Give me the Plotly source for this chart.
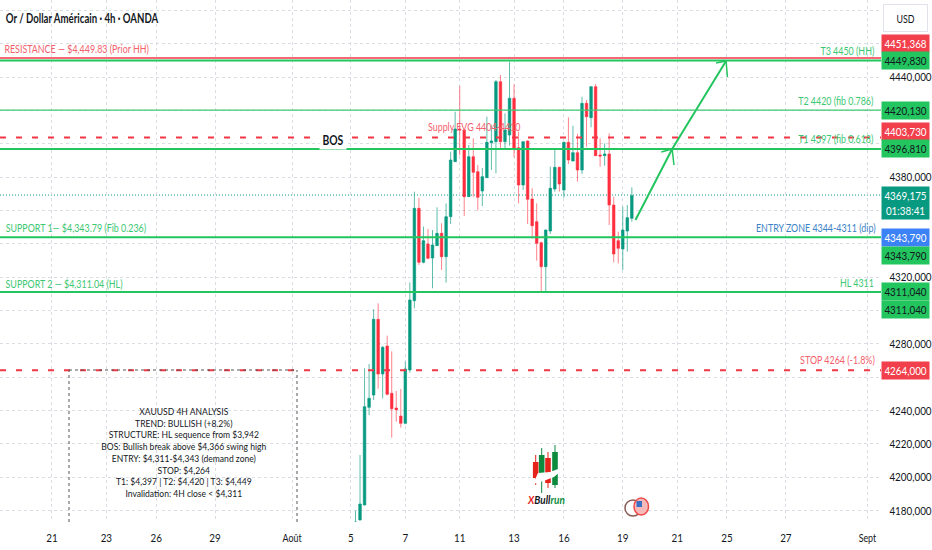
"""XAUUSD 4h chart with trade levels, drawn with Plotly."""

import plotly.graph_objects as go

# candles, one 4h bar per index
bar_index = list(range(62))
opens = [4150, 4174.2, 4183.2, 4241.8, 4249.2, 4294.6, 4261.8, 4278.6, 4250.2, 4241.4,
         4236.6, 4232.2, 4264.2, 4305.8, 4361.2, 4328.8, 4339.8, 4331.4, 4338.8, 4346.2,
         4332.2, 4356.2, 4389.2, 4408.8, 4408.2, 4368.2, 4392.2, 4383.2, 4371.6, 4379.6,
         4400.6, 4401.2, 4437.2, 4401.2, 4405.2, 4427.2, 4397.6, 4375.2, 4401.6, 4366.8,
         4353.2, 4340.6, 4326.2, 4347.6, 4372.8, 4385.8, 4372.2, 4400.8, 4389.6, 4394.6,
         4384.2, 4424.2, 4415.6, 4434.2, 4393.2, 4392.8, 4393.8, 4363.2, 4341.8, 4336.8,
         4347.6, 4355.2]
highs = [4179.8, 4213.2, 4265.2, 4267.8, 4300.6, 4304.2, 4278.6, 4284.8, 4275.4, 4251.6,
         4252.8, 4269.2, 4316.8, 4371.2, 4367.6, 4350.2, 4348.8, 4348.2, 4361.8, 4352.2,
         4364.2, 4395.2, 4419.2, 4434.6, 4408.8, 4399.2, 4403.2, 4387.2, 4385.4, 4416.2,
         4411.2, 4438.2, 4441.2, 4418.2, 4449.2, 4435.6, 4407.2, 4401.4, 4402, 4373.2,
         4364.2, 4341.2, 4348.4, 4386.2, 4396.2, 4386.2, 4401.2, 4415.8, 4410.8, 4405.8,
         4428.2, 4426.2, 4434.4, 4435.8, 4403.2, 4400.2, 4406.2, 4368.2, 4347.2, 4362.2,
         4363.2, 4373.8]
lows = [4140, 4174, 4183, 4237.2, 4246.2, 4253, 4247.2, 4249, 4223.6, 4233.2,
        4229.6, 4231.6, 4262.6, 4301.2, 4327.2, 4328.2, 4330.6, 4313.2, 4338.6, 4324.2,
        4316.6, 4351.8, 4389, 4393.2, 4356.6, 4368, 4368.2, 4360, 4362.6, 4379.4,
        4384.2, 4382.2, 4396.8, 4396.8, 4398.8, 4391.8, 4364.2, 4372.2, 4351.8, 4343.2,
        4329.8, 4311.2, 4311.2, 4345.8, 4371.2, 4371.2, 4367.6, 4387.8, 4389.4, 4377.2,
        4381.8, 4398.2, 4409.8, 4392.6, 4386.2, 4386.8, 4351.2, 4328.8, 4328.2, 4324.2,
        4335.2, 4353.2]
closes = [4173, 4183.8, 4242.2, 4247.2, 4294.6, 4261.8, 4277.8, 4249.6, 4241, 4240.4,
          4232.2, 4264.8, 4306.2, 4361.2, 4328.8, 4341.8, 4331.2, 4339.2, 4346.2, 4332.2,
          4356.2, 4390.2, 4408.8, 4408.2, 4368.2, 4392.2, 4382.8, 4367.8, 4380.2, 4400.8,
          4401.6, 4437.2, 4401.2, 4408.2, 4427.2, 4396.8, 4375.2, 4401.2, 4366.6, 4350.8,
          4340.2, 4326.2, 4348.2, 4373.2, 4385.8, 4375.8, 4400.8, 4390.2, 4394.6, 4384.2,
          4424.2, 4416.2, 4434.2, 4392.8, 4392.6, 4393.8, 4363.2, 4333.8, 4337.2, 4348.2,
          4355.6, 4368.8]

# axes
date_ticks = [-67, -55, -44, -31, -14, -1, 11, 23, 35, 46, 59, 71, 82, 95, 113]
date_labels = ["21", "23", "26", "29", "Août", "5", "7", "11", "13", "16", "19", "21", "25", "27", "Sept"]
price_ticks = list(range(4180, 4500, 20))
# ticks sitting under a price badge have no visible label
covered_ticks = [4260, 4300, 4340, 4360, 4400, 4420, 4460, 4480]
price_labels = ["" if p in covered_ticks else f"{p},000" for p in price_ticks]

# drawn levels: price, colour, width, dash
level_prices = [4451.368, 4449.83, 4420.13, 4403.73, 4396.81, 4343.79, 4311.04, 4264.0]
level_colors = ["#F23645", "#22C55E", "#3CC873", "#F23645", "#22C55E", "#22C55E", "#22C55E", "#F23645"]
level_widths = [1.5, 2, 1.3, 2, 2, 2, 2, 2]
level_dashes = ["solid", "solid", "solid", "6px,10px", "solid", "solid", "solid", "6px,10px"]

last_price = 4369.175

# the two-leg target arrow and its barbs
arrow_x = [61.8, 69.9, 81.8]
arrow_y = [4354.2, 4396.8, 4449.6]
barb_x = [67.5, 69.9, 70.3, None, 79.6, 81.8, 82.1]
barb_y = [4395, 4396.8, 4387.2, None, 4448.4, 4449.6, 4440]

GREEN = "#089981"
RED = "#FF2E3F"
TEXT = "#131722"
FONT = "Lato, sans-serif"

fig = go.Figure()

fig.add_hline(y=last_price, line=dict(color=GREEN, width=1, dash="1px,2px"), layer="below")

# sits under the candles, like the original drawing
fig.add_trace(go.Scatter(
    x=[16], y=[4409.4], mode="text", text=["Supply FVG 4404-4410"],
    textposition="middle right", textfont=dict(family=FONT, size=12, color="#F4606C"),
    hoverinfo="skip",
))

fig.add_trace(go.Candlestick(
    x=bar_index, open=opens, high=highs, low=lows, close=closes,
    increasing=dict(line=dict(color="rgba(8,153,129,0.65)", width=1), fillcolor=GREEN),
    decreasing=dict(line=dict(color="rgba(255,46,63,0.6)", width=1), fillcolor=RED),
    whiskerwidth=0,
))

for price, color, width, dash in zip(level_prices, level_colors, level_widths, level_dashes):
    fig.add_hline(y=price, line=dict(color=color, width=width, dash=dash), layer="above")

fig.add_trace(go.Scatter(x=arrow_x, y=arrow_y, mode="lines", line=dict(color="#22C55E", width=2), hoverinfo="skip"))
fig.add_trace(go.Scatter(x=barb_x, y=barb_y, mode="lines", line=dict(color="#22C55E", width=1.5), hoverinfo="skip"))


def chart_label(x, y, text, color, size=12):
    # text centred on chart pixels, the squeeze at the end keeps the centre
    fig.add_annotation(
        xref="paper", yref="paper", x=x / 881, y=1 - y / 522, text=text, showarrow=False,
        xanchor="center", yanchor="middle", font=dict(family=FONT, size=size, color=color),
    )


chart_label(82.5, 18, "<b>Or / Dollar Américain · 4h · OANDA</b>", TEXT, size=13)
chart_label(76.5, 48, "RESISTANCE — $4,449.83 (Prior HH)", "#F4606C")
chart_label(75.5, 227, "SUPPORT 1— $4,343.79 (Fib 0.236)", "#3CC873")
chart_label(63.5, 283, "SUPPORT 2 — $4,311.04 (HL)", "#3CC873")
chart_label(847, 50, "T3 4450 (HH)", "#3CC873")
chart_label(835.5, 100, "T2 4420 (fib 0.786)", "#3CC873")
chart_label(835.5, 138, "T1 4397 (fib 0.618)", "#3CC873")
chart_label(816, 227, "ENTRY ZONE 4344-4311 (dip)", "#3B82C6")
chart_label(857, 282, "HL 4311", "#3CC873")
chart_label(837, 359, "STOP 4264 (-1.8%)", "#F4606C")

fig.add_annotation(
    xref="paper", yref="paper", x=333 / 881, y=1 - 139 / 522, text="<b>BOS</b>", showarrow=False,
    xanchor="center", yanchor="middle", bgcolor="white", width=24, font=dict(family=FONT, size=14, color=TEXT),
)

analysis_lines = [
    "XAUUSD 4H ANALYSIS",
    "TREND: BULLISH (+8.2%)",
    "STRUCTURE: HL sequence from $3,942",
    "BOS: Bullish break above $4,366 swing high",
    "ENTRY: $4,311-$4,343 (demand zone)",
    "STOP: $4,264",
    "T1: $4,397 | T2: $4,420 | T3: $4,449",
    "Invalidation: 4H close < $4,311",
]
fig.add_annotation(
    xref="paper", yref="paper", x=184 / 881, y=1 - 452 / 522, text="<br>".join(analysis_lines),
    showarrow=False, align="center", xanchor="center", yanchor="middle",
    font=dict(family=FONT, size=9, color=TEXT),
)
for box_x in (69, 297):
    fig.add_shape(
        type="line", xref="paper", yref="paper", x0=box_x / 881, x1=box_x / 881, y0=0, y1=1 - 370 / 522,
        line=dict(color="#555555", width=1, dash="dot"),
    )
fig.add_shape(
    type="line", xref="paper", yref="paper", x0=69 / 881, x1=297 / 881, y0=1 - 370 / 522, y1=1 - 370 / 522,
    line=dict(color="#555555", width=1, dash="dot"),
)

# price badges on the right scale: value, fill, text colour, shift up in px
badge_values = [4451.368, 4449.83, 4420.13, 4403.73, 4396.81, 4343.79, 4343.79, 4311.04, 4311.04, 4264.0]
badge_fills = ["#F23F4C", "#22C55E", "#22C55E", "#F23F4C", "#22C55E", "#3B82F6", "#22C55E", "#22C55E", "#22C55E", "#F23F4C"]
badge_inks = ["white", TEXT, TEXT, "white", TEXT, "white", TEXT, TEXT, TEXT, "white"]
badge_shifts = [15, 0, 0, 6, 0, 0, -18, 0, -18, 0]

for value, fill, ink, shift in zip(badge_values, badge_fills, badge_inks, badge_shifts):
    fig.add_annotation(
        xref="paper", yref="y", x=1, y=value, yshift=shift, xanchor="left",
        text=f"{value:.3f}".replace(".", ","), showarrow=False, width=45, height=15, bgcolor=fill,
        font=dict(family=FONT, size=12, color=ink),
    )
fig.add_annotation(
    xref="paper", yref="y", x=1, y=last_price, yshift=-8, xanchor="left",
    text="4369,175<br>01:38:41", showarrow=False, width=45, height=30, bgcolor=GREEN,
    font=dict(family=FONT, size=12, color="white"),
)
fig.add_annotation(
    xref="paper", yref="paper", x=1, xshift=2, y=1 - 18 / 522, xanchor="left", yanchor="middle", text="USD",
    showarrow=False, width=43, height=26, bordercolor="#E0E3EB", borderwidth=1, borderpad=0, bgcolor="white",
    font=dict(family=FONT, size=12, color=TEXT),
)

# watermark logo
logo_candles = [(535.7, 462, 478, 455, 485, "#E5231B"), (541.7, 455, 480, 448, 493, "#0C8A3E"),
                (548, 458, 483, 452, 488, "#E5231B"), (555, 452, 485, 445, 488, "#0C8A3E")]
for px, top, bottom, wick_top, wick_bottom, color in logo_candles:
    fig.add_shape(type="line", xref="paper", yref="paper", x0=px / 881, x1=px / 881,
                  y0=1 - wick_bottom / 522, y1=1 - wick_top / 522, line=dict(color=color, width=1))
    fig.add_shape(type="rect", xref="paper", yref="paper", x0=(px - 2.8) / 881, x1=(px + 2.8) / 881,
                  y0=1 - bottom / 522, y1=1 - top / 522, fillcolor=color, line=dict(width=0))
bull = [(533, 484), (538, 473), (550, 472), (558, 469), (560, 472), (554, 477), (546, 480), (540, 482)]
bull_path = "M " + " L ".join(f"{x / 881} {1 - y / 522}" for x, y in bull) + " Z"
fig.add_shape(type="path", xref="paper", yref="paper", path=bull_path, fillcolor="white", line=dict(width=0))
chart_label(546, 500, "<b><i><span style='color:#E5231B'>X</span>Bull<span style='color:#0C8A3E'>run</span></i></b>", TEXT, 10.5)

fig.add_shape(type="circle", xref="paper", yref="paper", x0=625 / 881, x1=641 / 881, y0=1 - 516 / 522, y1=1 - 500 / 522,
              line=dict(color="#8A5A55", width=1.5), fillcolor="white")
fig.add_shape(type="circle", xref="paper", yref="paper", x0=634 / 881, x1=648.5 / 881, y0=1 - 515 / 522, y1=1 - 498 / 522,
              line=dict(color="#F04B4B", width=1.5), fillcolor="#F7B9B9")
fig.add_shape(type="rect", xref="paper", yref="paper", x0=636.5 / 881, x1=642 / 881, y0=1 - 507 / 522, y1=1 - 501 / 522,
              line=dict(width=0), fillcolor="#3B6FC4")

fig.update_layout(
    width=932, height=550,
    margin=dict(l=0, r=51, t=0, b=28),
    paper_bgcolor="white", plot_bgcolor="white",
    showlegend=False,
    boxgap=0.2,
    font=dict(family=FONT, size=12, color=TEXT),
    xaxis=dict(
        range=[-78.47, 116], rangeslider=dict(visible=False), tickmode="array", tickvals=date_ticks,
        ticktext=date_labels, showgrid=True, gridcolor="#DADDE3", griddash="dot", zeroline=False,
        showline=False, ticks="outside", ticklen=5, tickcolor="white", automargin=False,
    ),
    yaxis=dict(
        range=[4173, 4486.2], side="right", tickmode="array", tickvals=price_ticks, ticktext=price_labels,
        showgrid=True, gridcolor="#DADDE3", griddash="dot", zeroline=False, showline=False,
        ticks="outside", ticklen=5, tickcolor="white", automargin=False,
    ),
)

# the reference type is a condensed face, none is installed, so squeeze the glyphs
squeeze_text = """
document.body.style.margin = '0';
setTimeout(function () {
  document.querySelectorAll('svg text').forEach(function (el) {
    var size = parseFloat(getComputedStyle(el).fontSize);
    var factor = size < 11 ? 0.95 : (/^[0-9,:]+$/.test(el.textContent) ? 0.82 : 0.74);
    var lines = el.querySelectorAll('tspan.line');
    (lines.length ? lines : [el]).forEach(function (t) {
      var w = t.getComputedTextLength();
      if (w > 0) {
        t.setAttribute('textLength', w * factor);
        t.setAttribute('lengthAdjust', 'spacingAndGlyphs');
      }
    });
  });
}, 50);
"""
fig.write_html("out.html", config={"displayModeBar": False}, post_script=squeeze_text)
